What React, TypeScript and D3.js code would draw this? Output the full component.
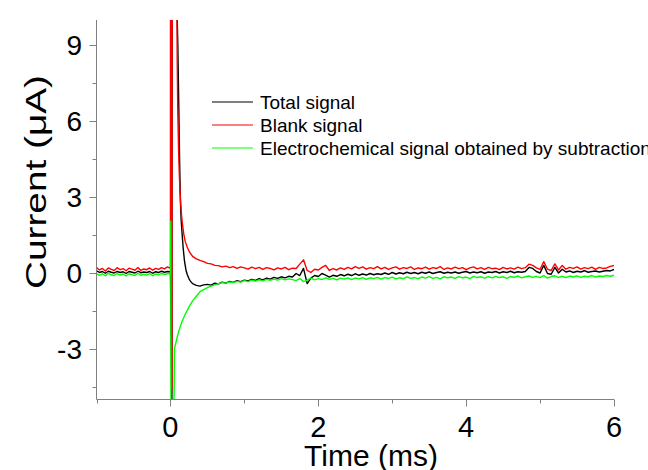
import React from "react";
import * as d3 from "d3";

// ---- Data ----
const preTimes = [
  -1.0, -0.96, -0.92, -0.88, -0.84, -0.8, -0.76, -0.72, -0.68, -0.64,
  -0.6, -0.56, -0.52, -0.48, -0.44, -0.4, -0.36, -0.32, -0.28, -0.24,
  -0.2, -0.16, -0.12, -0.08, -0.04,
];
const postTimes = [
  0.35, 0.4, 0.45, 0.5, 0.55, 0.6, 0.65, 0.7, 0.75, 0.8,
  0.85, 0.9, 0.95, 1.0, 1.05, 1.1, 1.15, 1.2, 1.25, 1.3,
  1.35, 1.4, 1.45, 1.5, 1.55, 1.6, 1.65, 1.7, 1.75, 1.8,
  1.85, 1.9, 1.95, 2.0, 2.05, 2.1, 2.15, 2.2, 2.25, 2.3,
  2.35, 2.4, 2.45, 2.5, 2.55, 2.6, 2.65, 2.7, 2.75, 2.8,
  2.85, 2.9, 2.95, 3.0, 3.05, 3.1, 3.15, 3.2, 3.25, 3.3,
  3.35, 3.4, 3.45, 3.5, 3.55, 3.6, 3.65, 3.7, 3.75, 3.8,
  3.85, 3.9, 3.95, 4.0, 4.05, 4.1, 4.15, 4.2, 4.25, 4.3,
  4.35, 4.4, 4.45, 4.5, 4.55, 4.6, 4.65, 4.7, 4.75, 4.8,
  4.85, 4.9, 4.95, 5.0, 5.05, 5.1, 5.15, 5.2, 5.25, 5.3,
  5.35, 5.4, 5.45, 5.5, 5.55, 5.6, 5.65, 5.7, 5.75, 5.8,
  5.85, 5.9, 5.95, 6.0,
];

// Total signal (black)
const totalPre = [
  0.08, 0.02, 0.06, -0.01, 0.07, 0.03, 0.0, 0.06, 0.02, 0.05,
  -0.02, 0.06, 0.03, 0.0, 0.07, 0.01, 0.04, 0.02, 0.06, -0.01,
  0.05, 0.02, 0.07, 0.03, 0.06,
];
const totalSpikeTimes = [0.0, 0.02, 0.028, 0.088, 0.1, 0.112, 0.125, 0.135, 0.145, 0.158, 0.172, 0.19, 0.21, 0.226, 0.25, 0.27, 0.3];
const totalSpike = [0.05, -5.6, 40, 10.5, 9.0, 6.8, 4.3, 2.85, 2.1, 1.55, 1.0, 0.48, 0.12, -0.05, -0.22, -0.32, -0.42];
const totalPost = [
  -0.49, -0.52, -0.47, -0.45, -0.48, -0.4, -0.43, -0.36, -0.4, -0.33,
  -0.37, -0.3, -0.34, -0.28, -0.31, -0.25, -0.29, -0.22, -0.27, -0.2,
  -0.24, -0.17, -0.21, -0.15, -0.19, -0.13, -0.16, -0.02, -0.1, 0.18,
  -0.42, -0.2, -0.1, -0.14, -0.02, -0.08, -0.16, -0.09, -0.13, -0.06,
  -0.11, -0.05, -0.1, -0.03, -0.09, -0.04, -0.08, -0.02, -0.07, -0.03,
  -0.06, 0.0, -0.05, 0.02, -0.04, 0.01, -0.03, 0.03, -0.02, 0.02,
  -0.03, 0.03, -0.01, 0.04, -0.02, 0.02, 0.05, -0.01, 0.03, 0.0,
  0.04, -0.01, 0.03, 0.06, 0.0, 0.04, 0.01, 0.05, -0.01, 0.04,
  0.02, 0.06, 0.0, 0.05, 0.02, 0.07, 0.01, 0.05, 0.03, 0.06,
  0.22, 0.18, 0.06, 0.0, 0.3, -0.02, -0.05, 0.22, 0.0, 0.15,
  0.04, 0.08, 0.02, 0.07, 0.04, 0.09, 0.03, 0.06, 0.08, 0.04,
  0.07, 0.1, 0.08, 0.14,
];

// Blank signal (red)
const blankPre = [
  0.22, 0.12, 0.18, 0.08, 0.2, 0.14, 0.1, 0.21, 0.13, 0.17,
  0.09, 0.19, 0.15, 0.11, 0.22, 0.1, 0.16, 0.13, 0.2, 0.11,
  0.18, 0.14, 0.21, 0.16, 0.24,
];
const blankSpikeTimes = [0.0, 0.003, 0.02, 0.03, 0.092, 0.1, 0.11, 0.12, 0.13, 0.14, 0.15, 0.16, 0.18, 0.2, 0.23, 0.26, 0.3];
const blankSpike = [0.18, 40, -4.6, 40, 8.3, 6.3, 4.9, 3.9, 3.2, 2.7, 2.3, 2.0, 1.55, 1.25, 1.0, 0.82, 0.66];
const blankPost = [
  0.56, 0.5, 0.45, 0.38, 0.36, 0.3, 0.29, 0.24, 0.27, 0.21,
  0.25, 0.18, 0.24, 0.2, 0.15, 0.23, 0.17, 0.22, 0.14, 0.21,
  0.18, 0.12, 0.2, 0.16, 0.22, 0.13, 0.19, 0.18, 0.35, 0.52,
  0.1, 0.02, 0.15, 0.12, 0.22, 0.3, 0.1, 0.17, 0.12, 0.2,
  0.14, 0.22, 0.16, 0.25, 0.18, 0.24, 0.15, 0.21, 0.17, 0.25,
  0.16, 0.22, 0.14, 0.2, 0.24, 0.15, 0.21, 0.18, 0.24, 0.14,
  0.2, 0.17, 0.23, 0.15, 0.21, 0.18, 0.25, 0.14, 0.2, 0.16,
  0.23, 0.17, 0.21, 0.13, 0.2, 0.24, 0.16, 0.21, 0.14, 0.22,
  0.17, 0.19, 0.13, 0.22, 0.16, 0.2, 0.15, 0.23, 0.17, 0.21,
  0.35, 0.3, 0.2, 0.14, 0.45, 0.15, 0.1, 0.36, 0.12, 0.3,
  0.15, 0.22, 0.18, 0.24, 0.15, 0.21, 0.17, 0.23, 0.14, 0.22,
  0.18, 0.2, 0.26, 0.3,
];

// Electrochemical signal obtained by subtraction (green)
const echemPre = [
  -0.02, -0.09, -0.03, -0.11, -0.01, -0.07, -0.1, -0.02, -0.08, -0.04,
  -0.12, -0.03, -0.07, -0.1, -0.01, -0.09, -0.05, -0.08, -0.02, -0.11,
  -0.04, -0.07, -0.01, -0.06, -0.03,
];
const echemSpikeTimes = [0.0, 0.005, 0.012, 0.054, 0.07, 0.09, 0.11, 0.135, 0.16, 0.2, 0.25, 0.3];
const echemSpike = [-0.03, 2.05, -20, -3.0, -2.8, -2.56, -2.33, -2.1, -1.9, -1.63, -1.35, -1.1];
const echemPost = [
  -0.92, -0.74, -0.66, -0.58, -0.52, -0.47, -0.42, -0.38, -0.4, -0.35,
  -0.38, -0.33, -0.36, -0.3, -0.34, -0.28, -0.32, -0.27, -0.31, -0.25,
  -0.29, -0.24, -0.28, -0.22, -0.27, -0.23, -0.26, -0.3, -0.22, -0.34,
  -0.28, -0.2, -0.27, -0.22, -0.26, -0.19, -0.25, -0.21, -0.27, -0.2,
  -0.24, -0.19, -0.26, -0.2, -0.23, -0.18, -0.25, -0.19, -0.22, -0.17,
  -0.24, -0.18, -0.21, -0.16, -0.23, -0.19, -0.22, -0.15, -0.21, -0.18,
  -0.22, -0.16, -0.2, -0.14, -0.21, -0.17, -0.23, -0.15, -0.19, -0.16,
  -0.21, -0.14, -0.19, -0.16, -0.22, -0.13, -0.18, -0.15, -0.2, -0.14,
  -0.19, -0.13, -0.18, -0.15, -0.21, -0.14, -0.17, -0.12, -0.19, -0.15,
  -0.12, -0.17, -0.13, -0.18, -0.1, -0.2, -0.14, -0.11, -0.17, -0.13,
  -0.18, -0.12, -0.16, -0.11, -0.17, -0.13, -0.15, -0.1, -0.16, -0.12,
  -0.14, -0.1, -0.13, -0.09,
];

const xMajorTicks = [0, 2, 4, 6];
const xMinorTicks = [-1, 1, 3, 5];
const yMajorTicks = [-3, 0, 3, 6, 9];
const yMinorTicks = [-4.5, -1.5, 1.5, 4.5, 7.5];
const seriesNames = ["Total signal", "Blank signal", "Electrochemical signal obtained by subtraction"];
const seriesColors = ["#000000", "#ff0000", "#00ff00"];

type Pt = [number, number];
const zip = (ts: number[], vs: number[]): Pt[] => {
  const n = Math.min(ts.length, vs.length);
  const out: Pt[] = [];
  for (let i = 0; i < n; i++) out.push([ts[i], vs[i]]);
  return out;
};

const totalData: Pt[] = [...zip(preTimes, totalPre), ...zip(totalSpikeTimes, totalSpike), ...zip(postTimes, totalPost)];
const blankData: Pt[] = [...zip(preTimes, blankPre), ...zip(blankSpikeTimes, blankSpike), ...zip(postTimes, blankPost)];
const echemData: Pt[] = [...zip(preTimes, echemPre), ...zip(echemSpikeTimes, echemSpike), ...zip(postTimes, echemPost)];

const W = 648;
const H = 470;
const FONT = "Arial, 'Liberation Sans', Helvetica, sans-serif";

export default function App() {
  const x = d3.scaleLinear().domain([-1, 6]).range([96.5, 614]);
  const y = d3.scaleLinear().domain([-5, 10]).range([399.5, 20]);
  const line = d3
    .line<Pt>()
    .x((d) => x(d[0]))
    .y((d) => y(d[1]));

  const x0 = x(-1);
  const x1 = x(6);
  const y0 = y(-5);
  const yTop = y(10);
  const axisColor = "#808080";

  const datasets = [totalData, blankData, echemData];

  return (
    <svg
      width={W}
      height={H}
      style={{ position: "fixed", left: 0, top: 0, display: "block", background: "#ffffff" }}
    >
      <defs>
        <clipPath id="plotClip">
          <rect x={x0} y={yTop} width={x1 - x0} height={y0 - yTop} />
        </clipPath>
      </defs>
      <rect x={0} y={0} width={W} height={H} fill="#ffffff" />

      <g clipPath="url(#plotClip)">
        {datasets.map((d, i) => (
          <path
            key={i}
            d={line(d) || ""}
            fill="none"
            stroke={seriesColors[i]}
            strokeWidth={1.4}
            strokeLinejoin="round"
          />
        ))}
      </g>

      {/* axes */}
      <line x1={x0} x2={x0} y1={yTop} y2={y0} stroke={axisColor} strokeWidth={1} />
      <line x1={x0} x2={x1} y1={y0} y2={y0} stroke={axisColor} strokeWidth={1} />
      {xMajorTicks.map((t) => (
        <line key={"xM" + t} x1={Math.round(x(t)) + 0.5} x2={Math.round(x(t)) + 0.5} y1={y0} y2={y0 + 7} stroke={axisColor} />
      ))}
      {xMinorTicks.map((t) => (
        <line key={"xm" + t} x1={Math.round(x(t)) + 0.5} x2={Math.round(x(t)) + 0.5} y1={y0} y2={y0 + 4} stroke={axisColor} />
      ))}
      {yMajorTicks.map((t) => (
        <line key={"yM" + t} x1={x0 - 7} x2={x0} y1={Math.round(y(t)) + 0.5} y2={Math.round(y(t)) + 0.5} stroke={axisColor} />
      ))}
      {yMinorTicks.map((t) => (
        <line key={"ym" + t} x1={x0 - 4} x2={x0} y1={Math.round(y(t)) + 0.5} y2={Math.round(y(t)) + 0.5} stroke={axisColor} />
      ))}

      {/* tick labels */}
      {xMajorTicks.map((t) => (
        <text key={"xl" + t} x={x(t)} y={437} textAnchor="middle" fontFamily={FONT} fontSize={29} fill="#000">
          {t}
        </text>
      ))}
      {yMajorTicks.map((t) => (
        <text key={"yl" + t} x={82} y={y(t) + 10} textAnchor="end" fontFamily={FONT} fontSize={28} fill="#000">
          {t}
        </text>
      ))}

      {/* axis titles */}
      <text x={371} y={466} textAnchor="middle" fontFamily={FONT} fontSize={30} fill="#000">
        Time (ms)
      </text>
      <text
        transform={`translate(46, 182) rotate(-90)`}
        textAnchor="middle"
        fontFamily={FONT}
        fontSize={30}
        textLength={214}
        lengthAdjust="spacingAndGlyphs"
        fill="#000"
      >
        Current (μA)
      </text>

      {/* legend */}
      {seriesNames.map((name, i) => (
        <g key={name}>
          <line x1={212} x2={253} y1={102 + i * 23} y2={102 + i * 23} stroke={seriesColors[i]} strokeWidth={1.2} />
          <text x={260} y={108.5 + i * 23} fontFamily={FONT} fontSize={19} fill="#000">
            {name}
          </text>
        </g>
      ))}
    </svg>
  );
}
